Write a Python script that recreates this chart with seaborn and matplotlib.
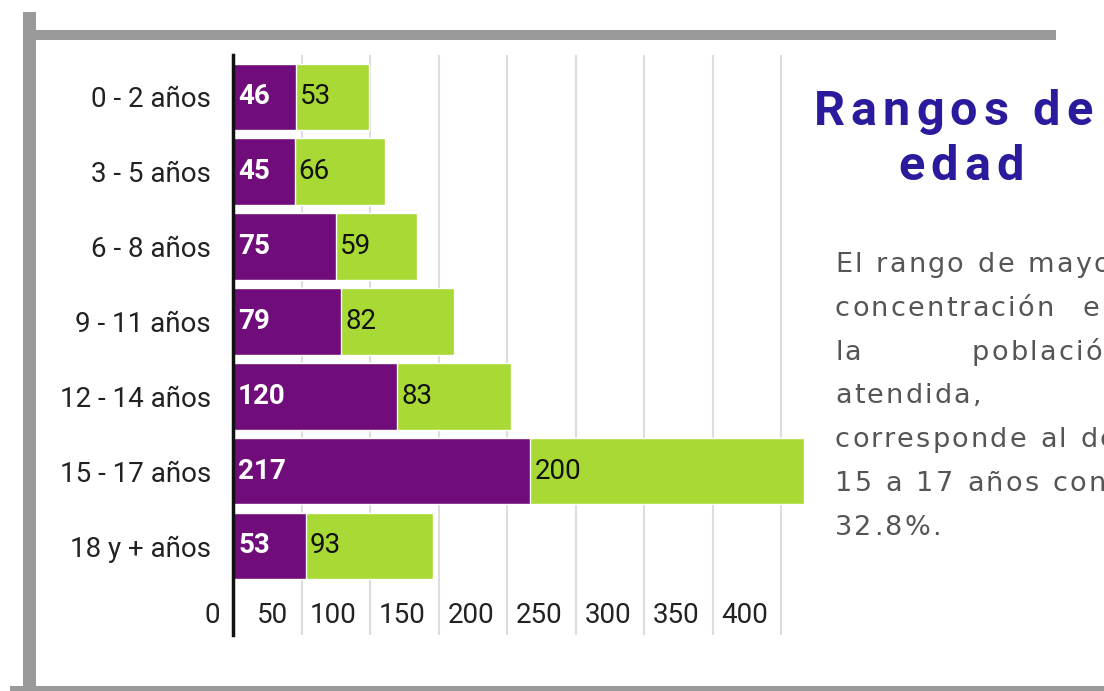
import matplotlib
matplotlib.use("Agg")
import matplotlib.pyplot as plt
import matplotlib.transforms as mtransforms
from matplotlib.font_manager import FontProperties
from matplotlib.patches import Rectangle
import pandas as pd
import seaborn as sns

# --- datos ---
rangos = ["0 - 2 años", "3 - 5 años", "6 - 8 años", "9 - 11 años",
          "12 - 14 años", "15 - 17 años", "18 y + años"]
serie_morada = [46, 45, 75, 79, 120, 217, 53]
serie_verde = [53, 66, 59, 82, 83, 200, 93]
marcas_x = [0, 50, 100, 150, 200, 250, 300, 350, 400]

titulo = ["Rangos de", "edad"]
parrafo = [
    ["El", "rango", "de", "mayor"],
    ["concentración", "en"],
    ["la", "población"],
    ["atendida,"],
    ["corresponde", "al", "de"],
    ["15", "a", "17", "años", "con", "el"],
    ["32.8%."],
]
# lineas justificadas: posicion x (px) de cada palabra
justificadas = {1: [835, 1083], 2: [835, 972]}

MORADO = "#710c7b"
VERDE = "#a9d934"
GRIS_MARCO = "#9a9a9a"
AZUL = "#2a1b9c"
W, H = 1104, 691


def main():
    df = pd.DataFrame({"rango": rangos, "morado": serie_morada, "verde": serie_verde})
    df["total"] = df["morado"] + df["verde"]

    sns.set_theme(style="white")
    plt.rcParams["font.family"] = ["Roboto", "DejaVu Sans"]

    fig = plt.figure(figsize=(W / 100, H / 100), dpi=100)
    fig.patch.set_facecolor("white")

    # marco gris
    def rect_px(x0, y0, x1, y1):
        fig.add_artist(Rectangle((x0 / W, 1 - y1 / H), (x1 - x0) / W, (y1 - y0) / H,
                                 transform=fig.transFigure, color=GRIS_MARCO, lw=0))
    rect_px(23, 12, 36, 691)
    rect_px(36, 30, 1056, 40)
    rect_px(10, 686, 1104, 691)

    ax = fig.add_axes([233 / W, 1 - 635 / H, 575 / W, 580 / H])
    sns.barplot(data=df, x="total", y="rango", color=VERDE, width=0.89,
                saturation=1, errorbar=None, ax=ax)
    sns.barplot(data=df, x="morado", y="rango", color=MORADO, width=0.89,
                saturation=1, errorbar=None, ax=ax)

    ax.set_xlim(0, 575 / 1.37)
    ax.set_ylim(7.19, -0.56)
    ax.set_xlabel("")
    ax.set_ylabel("")
    ax.set_axisbelow(True)
    ax.grid(axis="x", color="#dddddd", lw=1.5)
    ax.grid(axis="y", visible=False)
    for s in ["top", "right", "bottom"]:
        ax.spines[s].set_visible(False)
    ax.spines["left"].set_color("#111111")
    ax.spines["left"].set_linewidth(2.5)

    ax.set_xticks(marcas_x)
    ax.set_xticklabels([str(v) for v in marcas_x])
    ax.tick_params(axis="x", length=0, pad=-24, labelsize=20, labelcolor="#222222")
    ax.tick_params(axis="y", length=0, pad=16, labelsize=20, labelcolor="#222222")
    desplaza = mtransforms.ScaledTranslation(-0.13, 0, fig.dpi_scale_trans)
    for lbl in ax.get_xticklabels():
        lbl.set_ha("right")
        lbl.set_transform(lbl.get_transform() + desplaza)

    for i, (m, v) in enumerate(zip(serie_morada, serie_verde)):
        ax.annotate(str(m), xy=(0, i), xytext=(5, 0), textcoords="offset pixels",
                    va="center", ha="left", color="white", fontweight="bold", fontsize=20)
        ax.annotate(str(v), xy=(m, i), xytext=(4, 0), textcoords="offset pixels",
                    va="center", ha="left", color="#111111", fontsize=20)

    # texto con espaciado entre letras
    renderer = fig.canvas.get_renderer()

    def ancho(t, prop):
        return renderer.get_text_width_height_descent(t, prop, ismath=False)[0]

    def espaciado(x0, base, s, esp, prop, color):
        for i, ch in enumerate(s):
            if ch == " ":
                continue
            dx = ancho(s[:i + 1], prop) - ancho(ch, prop)
            fig.text((x0 + dx + i * esp) / W, 1 - base / H, ch, fontproperties=prop,
                     color=color, ha="left", va="baseline")
        return x0 + ancho(s, prop) + (len(s) - 1) * esp

    prop_tit = FontProperties(family="Roboto", weight="bold", size=35)
    for linea, cx, base in zip(titulo, [953, 961], [125, 180]):
        total = ancho(linea, prop_tit) + (len(linea) - 1) * 6
        espaciado(cx - total / 2, base, linea, 6, prop_tit, AZUL)

    prop_par = FontProperties(family="DejaVu Sans", size=19.5)
    for k, palabras in enumerate(parrafo):
        base = 272 + k * 43.8
        xs = justificadas.get(k)
        x = 835
        for j, p in enumerate(palabras):
            if xs is not None:
                x = xs[j]
            x = espaciado(x, base, p, 2.2, prop_par, "#555555") + 14

    fig.savefig("out.png", dpi=100, facecolor="white")
    plt.close(fig)


if __name__ == "__main__":
    main()
